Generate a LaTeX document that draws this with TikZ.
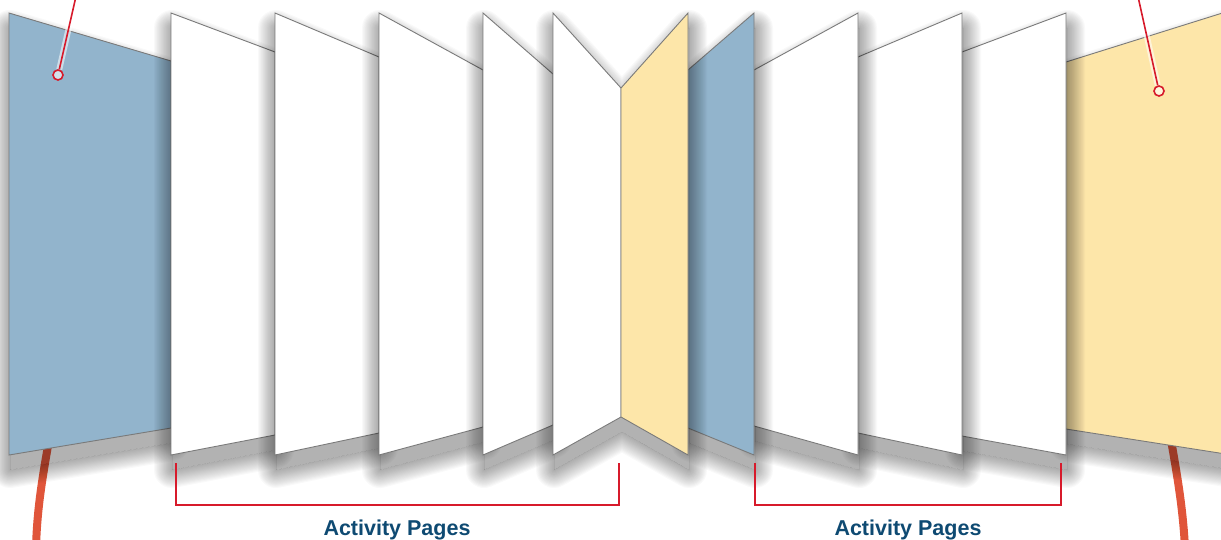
\documentclass[tikz,border=0pt]{standalone}
\usepackage{fontspec}
\setsansfont{Liberation Sans}
\usepackage{tikz}
\usetikzlibrary{calc}
\usepackage{xcolor}
\definecolor{coverblue}{HTML}{92B4CC}
\definecolor{coveryellow}{HTML}{FDE6A9}
\definecolor{pinred}{HTML}{D71A2B}
\definecolor{ribbon}{HTML}{E0553A}
\definecolor{labelblue}{HTML}{0E4A72}
\definecolor{edgegray}{HTML}{7A7A7A}
\tikzstyle{shadowring} = [black, opacity=0.022, line join=round]
\tikzstyle{shadowcore} = [black, opacity=0.30]
\tikzstyle{page}       = [draw=edgegray, line width=0.9pt, fill=white]
\tikzstyle{bluepage}   = [page, fill=coverblue]
\tikzstyle{yellowpage} = [page, fill=coveryellow]
\tikzstyle{ribbonline} = [draw=ribbon, line width=8pt]
\tikzstyle{bracket}    = [draw=pinred, line width=1.6pt]
\tikzstyle{leader}     = [draw=pinred, line width=1.6pt, preaction={draw=white, line width=6pt, opacity=0.55}]
\tikzstyle{pin}        = [circle, draw=pinred, line width=1.6pt, fill=white, fill opacity=0.6, minimum size=10pt, inner sep=0pt]
\tikzstyle{caption}    = [font=\sffamily\bfseries\fontsize{21.5}{25}\selectfont, text=labelblue, anchor=base]

% soft drop shadow: solid core plus rings that fade outwards
\newcommand{\leafshadow}[1]{%
  \begin{scope}[xshift=1pt, yshift=-15pt]
    \begin{scope}[even odd rule]
      \clip (-200,-200) rectangle (1500,800) #1;
      \foreach \w in {2.25,4.5,...,36}{\draw[shadowring, line width=\w pt] #1;}
    \end{scope}
    \fill[shadowcore] #1;
  \end{scope}}
\newcommand{\leaf}[2]{\leafshadow{#2}\filldraw[#1] #2;}

\begin{document}
\begin{tikzpicture}[x=1pt, y=-1pt]
  \useasboundingbox (0,0) rectangle (1221,539);

  % Ribbons tucked behind the covers
  \draw[ribbonline] (49,440) .. controls (42,480) and (37,510) .. (36,548);
  \draw[ribbonline] (1171,440) .. controls (1178,480) and (1183,510) .. (1185,548);

  % Left half, back to front
  \leaf{bluepage}{(9,13) -- (171,61) -- (171,428) -- (9,455) -- cycle}
  \leaf{page}{(171,13) -- (275,52) -- (275,435) -- (171,455) -- cycle}
  \leaf{page}{(275,13) -- (379,57) -- (379,433) -- (275,455) -- cycle}
  \leaf{page}{(379,13) -- (483,70) -- (483,427) -- (379,455) -- cycle}
  \leaf{page}{(483,13) -- (553,74) -- (553,425) -- (483,455) -- cycle}

  % Right half, back to front
  \leaf{yellowpage}{(1232,10) -- (1066,62) -- (1066,429) -- (1232,455) -- cycle}
  \leaf{page}{(1066,13) -- (962,52) -- (962,436) -- (1066,455) -- cycle}
  \leaf{page}{(962,13) -- (858,57) -- (858,433) -- (962,455) -- cycle}
  \leaf{page}{(858,13) -- (754,70) -- (754,426) -- (858,455) -- cycle}
  \leaf{bluepage}{(754,13) -- (688,70) -- (688,428) -- (754,455) -- cycle}

  % Centre spread: one shadow under both pages
  \leafshadow{(553,13) -- (621,88) -- (688,13) -- (688,455) -- (621,417) -- (553,455) -- cycle}
  \filldraw[page] (553,13) -- (621,88) -- (621,417) -- (553,455) -- cycle;
  \filldraw[yellowpage] (688,13) -- (621,88) -- (621,417) -- (688,455) -- cycle;

  % Pins on the covers
  \node[pin] (frontpin) at (58,75) {};
  \node[pin] (backpin) at (1159,91) {};
  \coordinate (fronttag) at (77,-8);
  \coordinate (backtag) at (1137,-8);
  \draw[leader] (fronttag) -- (frontpin);
  \draw[leader] (backtag) -- (backpin);

  % Brackets and captions
  \coordinate (leftopen) at (176,463);
  \coordinate (leftclose) at (619,463);
  \coordinate (rightopen) at (755,463);
  \coordinate (rightclose) at (1061,463);
  \draw[bracket] (leftopen) -- ++(0,42) -| (leftclose);
  \draw[bracket] (rightopen) -- ++(0,42) -| (rightclose);
  \node[caption] (leftpages) at (397,535) {Activity Pages};
  \node[caption] (rightpages) at (908,535) {Activity Pages};
\end{tikzpicture}
\end{document}
